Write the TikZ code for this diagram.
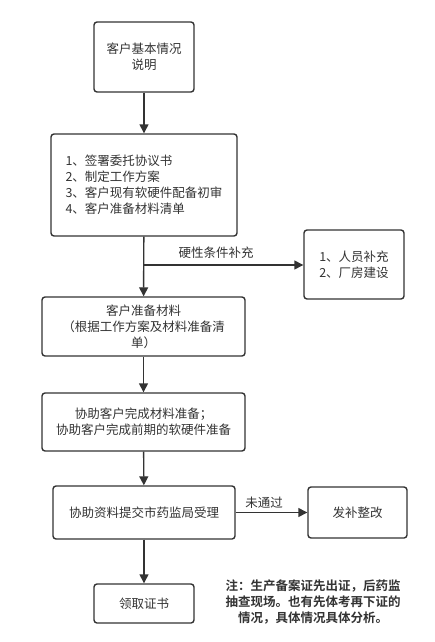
\documentclass[tikz,border=0pt]{standalone}
\usepackage{fontspec}
\setmainfont{Noto Sans CJK SC}[BoldFont={Noto Sans CJK SC Bold}]
\usetikzlibrary{arrows.meta}
\definecolor{ink}{HTML}{333333}
\tikzset{
  box/.style={draw=ink, line width=1.4pt, rounded corners=3pt, fill=white, text=ink,
    font=\fontsize{12.5}{16}\selectfont, inner sep=0pt},
  conn/.style={draw=ink, line width=1.4pt, -{Triangle[length=9pt,width=9pt]}},
  lbl/.style={text=ink, font=\fontsize{12.5}{16}\selectfont, inner sep=0pt},
}
\begin{document}
\begin{tikzpicture}[x=1pt,y=-1pt]
\path[use as bounding box, fill=white] (0,0) rectangle (435,642);
\node[box, minimum width=100pt, minimum height=70pt, align=center] (b1) at (144,57) {客户基本情况\\说明};
\node[box, minimum width=186pt, minimum height=102pt, align=left] (b2) at (144,185) {1、签署委托协议书\\2、制定工作方案\\3、客户现有软硬件配备初审\\4、客户准备材料清单};
\node[box, minimum width=100pt, minimum height=69pt, align=left] (r1) at (354,264.5) {1、人员补充\\2、厂房建设};
\node[box, minimum width=203pt, minimum height=59pt, align=center] (b3) at (143.5,326.5) {客户准备材料\\（根据工作方案及材料准备清\\单）};
\node[box, minimum width=203pt, minimum height=58pt, align=center] (b4) at (143.5,422) {协助客户完成材料准备；\\协助客户完成前期的软硬件准备};
\node[box, minimum width=182pt, minimum height=53pt, align=center] (b5) at (144,512.5) {协助资料提交市药监局受理};
\node[box, minimum width=99pt, minimum height=51pt, align=center] (r2) at (357.5,512.5) {发补整改};
\node[box, minimum width=100pt, minimum height=39pt, align=center] (b6) at (144,603.5) {领取证书};
\node[lbl, font=\fontsize{12.5}{16}\selectfont\bfseries, align=center] (note) at (313,602) {注：生产备案证先出证，后药监\\抽查现场。也有先体考再下证的\\情况，具体情况具体分析。};
\coordinate (br) at (144,265);
\draw[conn] (b1) -- (b2);
\draw[conn] (b2) -- (b3);
\draw[conn] (br) -- (br -| r1.west);
\node[lbl] (l1) at (216,253) {硬性条件补充};
\draw[conn] (b3) -- (b4);
\draw[conn] (b4) -- (b5);
\draw[conn] (b5.east) -- (r2.west);
\node[lbl] (l2) at (264,503) {未通过};
\draw[conn] (b5) -- (b6);
\end{tikzpicture}
\end{document}
